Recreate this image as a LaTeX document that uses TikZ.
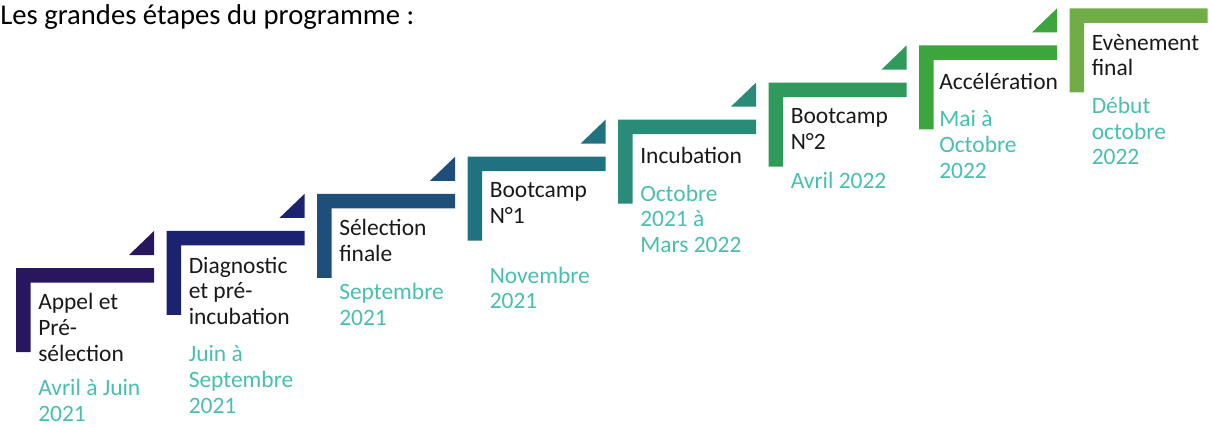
\documentclass[tikz,border=0pt]{standalone}
\usepackage{fontspec}
\setmainfont{Carlito}
\usetikzlibrary{positioning}
\definecolor{etapeA}{RGB}{40, 22, 95}
\definecolor{etapeB}{RGB}{27, 34, 112}
\definecolor{etapeC}{RGB}{30, 78, 122}
\definecolor{etapeD}{RGB}{33, 114, 128}
\definecolor{etapeE}{RGB}{42, 139, 121}
\definecolor{etapeF}{RGB}{48, 154, 90}
\definecolor{etapeG}{RGB}{60, 165, 62}
\definecolor{etapeH}{RGB}{112, 173, 71}
\definecolor{periodecol}{RGB}{72, 191, 176}
\tikzstyle{etape} = [
  font=\fontsize{17.6}{19.2}\selectfont,
  align=left,
  inner sep=0pt,
  text=black!90,
  execute at begin node=\strut,
  execute at end node=\strut,
]
\tikzstyle{periode} = [
  etape,
  text=periodecol,
  execute at end node=,
]

\begin{document}
\begin{tikzpicture}[x=0.75pt, y=-0.75pt,
    stair/.style={insert path={-- ++(138,0) -- ++(0,14.5) -- ++(-123.5,0)
                               -- ++(0,69.5) -- ++(-14.5,0) -- cycle}},
    wedge/.style={insert path={++(138,-13) -- ++(0,-24) -- ++(-25,24) -- cycle}}]
    \useasboundingbox (0,0) rectangle (1209,426);
    \node [font=\fontsize{21.5}{24}\selectfont, anchor=base west, inner sep=0pt]
          (titre) at (0,24) {Les grandes étapes du programme :};

    \coordinate (s1) at (16,268);
    \coordinate (s2) at (166.5,230.9);
    \coordinate (s3) at (317,193.8);
    \coordinate (s4) at (467.5,156.7);
    \coordinate (s5) at (618,119.6);
    \coordinate (s6) at (768.5,82.5);
    \coordinate (s7) at (919,45.4);
    \coordinate (s8) at (1069.5,8.3);

    \fill [etapeA] (s1) [stair];
    \fill [etapeA] (s1) [wedge];
    \fill [etapeB] (s2) [stair];
    \fill [etapeB] (s2) [wedge];
    \fill [etapeC] (s3) [stair];
    \fill [etapeC] (s3) [wedge];
    \fill [etapeD] (s4) [stair];
    \fill [etapeD] (s4) [wedge];
    \fill [etapeE] (s5) [stair];
    \fill [etapeE] (s5) [wedge];
    \fill [etapeF] (s6) [stair];
    \fill [etapeF] (s6) [wedge];
    \fill [etapeG] (s7) [stair];
    \fill [etapeG] (s7) [wedge];
    \fill [etapeH] (s8) [stair];

    \node [etape, below right=19pt and 16.5pt of s1] (appel)
          {Appel et\\Pré-\\sélection};
    \node [periode, below right=7.5pt and 0pt of appel.south west] (appeldate)
          {Avril à Juin\\2021};
    \node [etape, below right=19.2pt and 16.5pt of s2] (diag)
          {Diagnostic\\et pré-\\incubation};
    \node [periode, below right=10pt and 0pt of diag.south west] (diagdate)
          {Juin à\\Septembre\\2021};
    \node [etape, below right=19.2pt and 16.5pt of s3] (selection)
          {Sélection\\finale};
    \node [periode, below right=10pt and 0pt of selection.south west] (selectiondate)
          {Septembre\\2021};
    \node [etape, below right=19.2pt and 16.5pt of s4] (boot1)
          {Bootcamp\\N°1};
    \node [periode, below right=26.5pt and 0pt of boot1.south west] (boot1date)
          {Novembre\\2021};
    \node [etape, below right=19.2pt and 16.5pt of s5] (incub)
          {Incubation};
    \node [periode, below right=10pt and 0pt of incub.south west] (incubdate)
          {Octobre\\2021 à\\Mars 2022};
    \node [etape, below right=19.2pt and 16.5pt of s6] (boot2)
          {Bootcamp\\N°2};
    \node [periode, below right=10pt and 0pt of boot2.south west] (boot2date)
          {Avril 2022};
    \node [etape, below right=19.2pt and 15pt of s7] (accel)
          {Accélération};
    \node [periode, below right=10pt and 0pt of accel.south west] (acceldate)
          {Mai à\\Octobre\\2022};
    \node [etape, below right=19.2pt and 16.5pt of s8] (final)
          {Evènement\\final};
    \node [periode, below right=10pt and 0pt of final.south west] (finaldate)
          {Début\\octobre\\2022};
\end{tikzpicture}
\end{document}
